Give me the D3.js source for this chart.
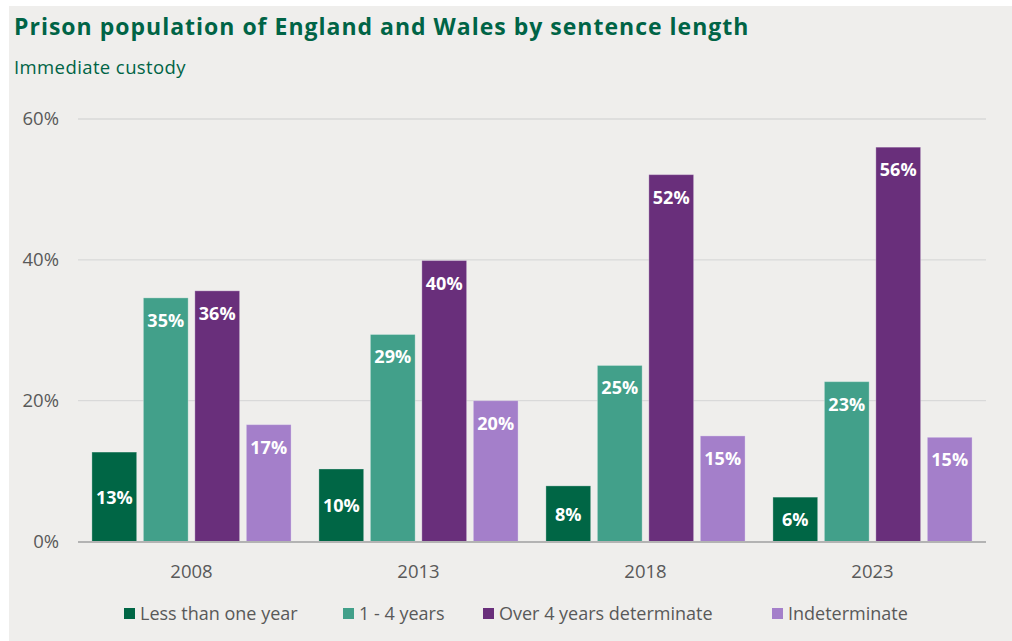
<!DOCTYPE html>
<html>
<head>
<meta charset="utf-8">
<script src="https://cdn.jsdelivr.net/npm/d3@7"></script>
<style>
  html, body { margin: 0; padding: 0; background: #ffffff; }
  svg { display: block; }
</style>
</head>
<body>
<svg id="chart" width="1012" height="641"></svg>
<script>
// Share of the immediate-custody prison population, by sentence length (%)
const years = ["2008", "2013", "2018", "2023"];
const seriesNames = ["Less than one year", "1 - 4 years", "Over 4 years determinate", "Indeterminate"];
const lessThanOneYear = [12.7, 10.3, 7.9, 6.3];
const oneToFourYears = [34.6, 29.4, 25.0, 22.7];
const overFourYears = [35.6, 39.9, 52.1, 56.0];
const indeterminate = [16.6, 20.0, 15.0, 14.8];
const yTicks = [0, 20, 40, 60];

const seriesValues = [lessThanOneYear, oneToFourYears, overFourYears, indeterminate];
const colors = ["#006645", "#42a08a", "#692f7b", "#a47fca"];

const svg = d3.select("#chart");
const W = 1012, H = 641;

// panel background
svg.append("rect")
  .attr("x", 9).attr("y", 6)
  .attr("width", W - 9).attr("height", H - 6)
  .attr("fill", "#efeeec");

// titles
svg.append("text")
  .attr("x", 14).attr("y", 35)
  .attr("font-family", "'Open Sans', sans-serif")
  .attr("font-weight", 700)
  .attr("font-size", 23)
  .attr("letter-spacing", 1)
  .attr("fill", "#006446")
  .text("Prison population of England and Wales by sentence length");

svg.append("text")
  .attr("x", 14).attr("y", 74)
  .attr("font-family", "'Open Sans', sans-serif")
  .attr("font-size", 18.5)
  .attr("letter-spacing", 0.4)
  .attr("fill", "#006446")
  .text("Immediate custody");

const plot = { left: 78, right: 986, top: 119, bottom: 541.5 };

const x0 = d3.scaleBand()
  .domain(years)
  .range([plot.left, plot.right])
  .padding(0);

const x1 = d3.scaleBand()
  .domain(seriesNames)
  .range([0, x0.bandwidth()])
  .paddingInner(0.13)
  .paddingOuter(0.27);

const y = d3.scaleLinear()
  .domain([0, 60])
  .range([plot.bottom, plot.top]);

// gridlines and y labels
const grid = svg.append("g");
grid.selectAll("line")
  .data(yTicks.filter(t => t > 0))
  .join("line")
  .attr("x1", plot.left).attr("x2", plot.right)
  .attr("y1", d => y(d)).attr("y2", d => y(d))
  .attr("stroke", "#d9d9d9")
  .attr("stroke-width", 1.3);

const yAxis = d3.axisLeft(y)
  .tickValues(yTicks)
  .tickFormat(d => d + "%")
  .tickSize(0)
  .tickPadding(19);

svg.append("g")
  .attr("transform", `translate(${plot.left},0)`)
  .call(yAxis)
  .call(g => g.select(".domain").remove())
  .call(g => g.selectAll("text")
    .attr("font-family", "'Open Sans', sans-serif")
    .attr("font-size", 18.5)
    .attr("fill", "#595959"));

// bars
const groups = svg.append("g")
  .selectAll("g")
  .data(years)
  .join("g")
  .attr("transform", d => `translate(${x0(d)},0)`);

const cells = groups.selectAll("g")
  .data((yr, i) => seriesNames.map((s, j) => ({ series: s, idx: j, value: seriesValues[j][i] })))
  .join("g");

cells.append("rect")
  .attr("x", d => x1(d.series))
  .attr("width", x1.bandwidth())
  .attr("y", d => y(d.value))
  .attr("height", d => y(0) - y(d.value))
  .attr("fill", d => colors[d.idx])
  .attr("stroke", "rgba(255,255,255,0.3)")
  .attr("stroke-width", 1);

cells.append("text")
  .attr("x", d => x1(d.series) + x1.bandwidth() / 2)
  .attr("y", d => d.idx === 0 ? (y(d.value) + y(0)) / 2 + 7 : y(d.value) + 29)
  .attr("text-anchor", "middle")
  .attr("font-family", "'Open Sans', sans-serif")
  .attr("font-weight", 700)
  .attr("font-size", 18)
  .attr("fill", "#ffffff")
  .text(d => Math.round(d.value) + "%");

// baseline
svg.append("line")
  .attr("x1", plot.left).attr("x2", plot.right)
  .attr("y1", y(0) + 0.5).attr("y2", y(0) + 0.5)
  .attr("stroke", "#b3b3b3")
  .attr("stroke-width", 2);

// x labels
const xAxis = d3.axisBottom(x0).tickSize(0).tickPadding(23);
svg.append("g")
  .attr("transform", `translate(0,${plot.bottom})`)
  .call(xAxis)
  .call(g => g.select(".domain").remove())
  .call(g => g.selectAll("text")
    .attr("font-family", "'Open Sans', sans-serif")
    .attr("font-size", 18.5)
    .attr("fill", "#595959"));

// legend
const legendX = [124, 343, 483, 772];
const legend = svg.append("g");
seriesNames.forEach((name, i) => {
  const g = legend.append("g").attr("transform", `translate(${legendX[i]},620)`);
  g.append("rect")
    .attr("x", 0).attr("y", -12)
    .attr("width", 11).attr("height", 11)
    .attr("fill", colors[i]);
  g.append("text")
    .attr("x", 16).attr("y", 0)
    .attr("font-family", "'Open Sans', sans-serif")
    .attr("font-size", 18)
    .attr("fill", "#595959")
    .text(name);
});
</script>
</body>
</html>
